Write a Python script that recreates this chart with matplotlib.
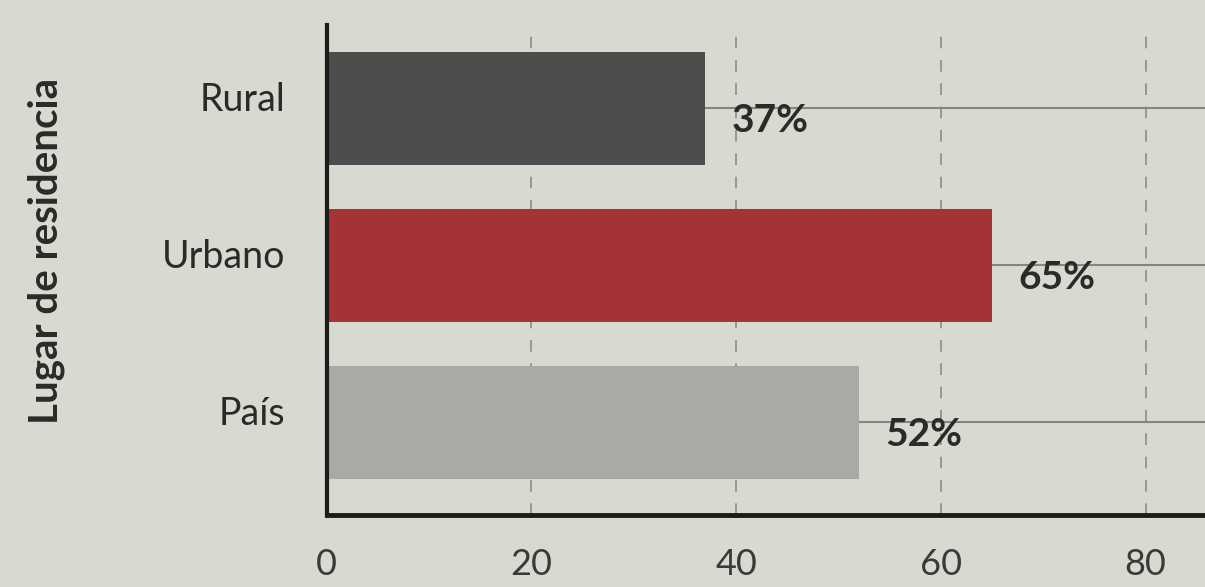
import matplotlib
matplotlib.use("Agg")
import matplotlib.pyplot as plt
import matplotlib.transforms as mtransforms

# datos del grafico
categorias = ["País", "Urbano", "Rural"]
valores = [52, 65, 37]
etiquetas = ["52%", "65%", "37%"]
colores = ["#a9a9a5", "#a53234", "#4d4d4b"]
ticks_x = [0, 20, 40, 60, 80]

plt.rcParams['font.family'] = ['Lato', 'DejaVu Sans']
fondo = "#d8dad2"

fig = plt.figure(figsize=(12.05, 5.87), dpi=100, facecolor=fondo)
ax = fig.add_axes([0.271, 0.123, 0.729, 0.834], facecolor=fondo)

xmax = 85.8
pos = list(range(len(categorias)))

# lineas de guia verticales discontinuas
for t in ticks_x[1:]:
    ax.axvline(t, color="#8c8d88", lw=1.2, ls=(0, (7, 7)), zorder=1)

# lineas horizontales desde el final de cada barra
ax.hlines(pos, valores, xmax, color="#85867f", lw=1.5, zorder=1)

ax.barh(pos, valores, height=0.72, color=colores, zorder=2)

for y, v, txt in zip(pos, valores, etiquetas):
    ax.text(v + 2.6, y - 0.08, txt, fontsize=28, fontweight="bold",
            color="#2a2a28", va="center", ha="left", zorder=3)

ax.set_xlim(0, xmax)
ax.set_ylim(-0.59, 2.53)
ax.set_xticks(ticks_x)
ax.set_xticklabels([str(t) for t in ticks_x], fontsize=26, color="#3a3a38")
ax.set_yticks(pos)
ax.set_yticklabels(categorias, fontsize=27, color="#2a2a28")
ax.tick_params(axis="x", length=0, pad=24)
ax.tick_params(axis="y", length=0, pad=30)

# las etiquetas de categoria quedan un poco por encima del centro
subir = mtransforms.ScaledTranslation(0, 12 / 100, fig.dpi_scale_trans)
for lab in ax.get_yticklabels():
    lab.set_transform(lab.get_transform() + subir)

ax.set_ylabel("Lugar de residencia", fontsize=29, fontweight="bold",
              color="#2a2a28")
ax.yaxis.set_label_coords(-0.298, 0.54)

for s in ["top", "right"]:
    ax.spines[s].set_visible(False)
ax.spines["left"].set_linewidth(3)
ax.spines["bottom"].set_linewidth(3.5)
ax.spines["left"].set_color("#1c1c1a")
ax.spines["bottom"].set_color("#1c1c1a")

fig.savefig("out.png", dpi=100, facecolor=fondo)
